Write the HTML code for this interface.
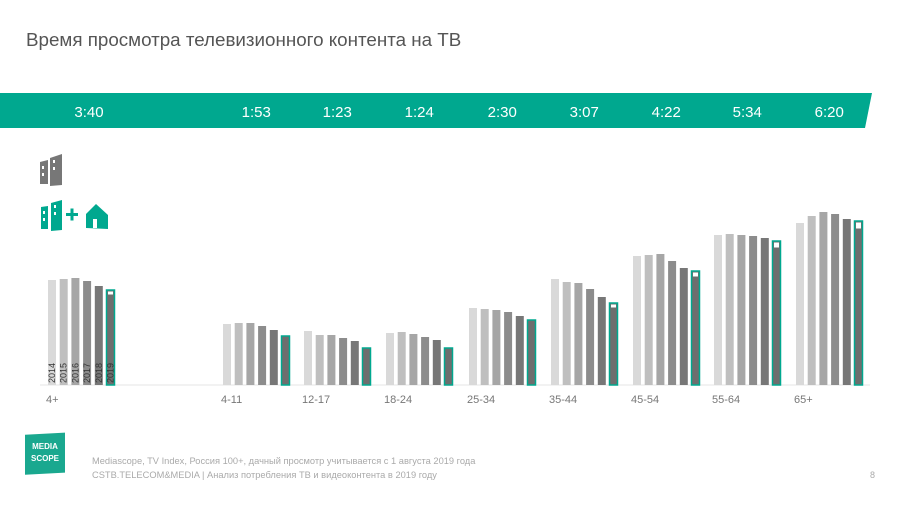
<!DOCTYPE html>
<html><head><meta charset="utf-8">
<style>
body{margin:0;background:#fff;font-family:"Liberation Sans",sans-serif;}
#wrap{position:relative;width:900px;height:505px;overflow:hidden;background:#fff;}
</style></head><body>
<div id="wrap">
<svg id="chart" width="900" height="505">
  <text x="26" y="46" font-size="18.8" fill="#555">Время просмотра телевизионного контента на ТВ</text>
  <polygon points="0,93 872,93 865,128 0,128" fill="#00a88f"/>
  <g id="icons">
    <g fill="#777">
      <polygon points="40,162 48,160 48,184 40,184"/><polygon points="50,158 62,154 62,185 50,186"/>
      <rect x="42" y="166" width="2" height="3" fill="#fff"/><rect x="42" y="173" width="2" height="3" fill="#fff"/>
      <rect x="53" y="160" width="2" height="3" fill="#fff"/><rect x="53" y="167" width="2" height="3" fill="#fff"/>
    </g>
    <g fill="#00a88f">
      <polygon points="41,207 48,206 48,229 41,229"/><polygon points="51,203 62,200 62,230 51,231"/>
      <rect x="43" y="211" width="2" height="3" fill="#fff"/><rect x="43" y="218" width="2" height="3" fill="#fff"/>
      <rect x="54" y="205" width="2" height="3" fill="#fff"/><rect x="54" y="212" width="2" height="3" fill="#fff"/>
      <rect x="66" y="213" width="12" height="3"/><rect x="70.5" y="208.5" width="3" height="12"/>
      <polygon points="86,214 96,204 108,215 108,229 86,228"/><rect x="93" y="219" width="4" height="9" fill="#fff"/>
    </g>
  </g>
  <line x1="40" y1="385" x2="870" y2="385" stroke="#e6e6e6"/>
  <g id="bars"></g>
  <g id="labels"></g>
  <rect x="25" y="434" width="40" height="40" fill="#1aa88f" transform="skewY(-3) translate(0,2)"/>
  <text x="45" y="449" font-size="8" fill="#fff" text-anchor="middle" font-weight="bold">MEDIA</text>
  <text x="45" y="461" font-size="8" fill="#fff" text-anchor="middle" font-weight="bold">SCOPE</text>
  <text x="92" y="464" font-size="9.3" fill="#aaa">Mediascope, TV Index, Россия 100+, дачный просмотр учитывается с 1 августа 2019 года</text>
  <text x="92" y="478" font-size="9.3" fill="#aaa">CSTB.TELECOM&amp;MEDIA | Анализ потребления ТВ и видеоконтента в 2019 году</text>
  <text x="870" y="478" font-size="9" fill="#aaa">8</text>
</svg>
</div>
<script>
const categories=["4+","4-11","12-17","18-24","25-34","35-44","45-54","55-64","65+"];
const totals=["3:40","1:53","1:23","1:24","2:30","3:07","4:22","5:34","6:20"];
const years=["2014","2015","2016","2017","2018","2019"];
const v2014=[105,61,54,52,77,106,129,150,162];
const v2015=[106,62,50,53,76,103,130,151,169];
const v2016=[107,62,50,51,75,102,131,150,173];
const v2017=[104,59,47,48,73,96,124,149,171];
const v2018=[99,55,44,45,69,88,117,147,166];
const v2019=[95,49,37,37,65,82,114,144,164];
const dacha2019=[3,0,0,0,0,3,4,5,6];
const NS="http://www.w3.org/2000/svg";
const base=385, scale=1;
const groupX=[48,223,304,386,469,551,633,714,796];
const pitch=11.7, bw=8;
const fills=["#d9d9d9","#bfbfbf","#a6a6a6","#8c8c8c","#777","#6e6e6e"];
const series=[v2014,v2015,v2016,v2017,v2018,v2019];
const bars=document.getElementById('bars'), labels=document.getElementById('labels');
function y(v){return base-v*scale;}
categories.forEach((c,i)=>{
  series.forEach((s,j)=>{
    const r=document.createElementNS(NS,'rect');
    const x=groupX[i]+j*pitch;
    r.setAttribute('x',x);r.setAttribute('y',y(s[i]));r.setAttribute('width',bw);r.setAttribute('height',s[i]*scale);
    r.setAttribute('fill',fills[j]);
    if(j===5){r.setAttribute('stroke','#00a88f');r.setAttribute('stroke-width','1.5');}
    
    
    bars.appendChild(r);
    if(j===5&&dacha2019[i]>0){
      const w=document.createElementNS(NS,'rect');
      w.setAttribute('x',x+1.5);w.setAttribute('y',y(s[i])+1.5);w.setAttribute('width',bw-3);w.setAttribute('height',dacha2019[i]);
      w.setAttribute('fill','#fff');
      
      
      bars.appendChild(w);
    }
    if(i===0){
      const t=document.createElementNS(NS,'text');
      t.setAttribute('transform','translate('+(x+bw-1)+',383) rotate(-90)');
      t.setAttribute('font-size','9');t.setAttribute('fill','#333');
      t.textContent=years[j];
      
      
      labels.appendChild(t);
    }
  });
  const t=document.createElementNS(NS,'text');
  t.setAttribute('x',groupX[i]-2);t.setAttribute('y',403);t.setAttribute('font-size','11');t.setAttribute('fill','#777');
  t.textContent=c;
  
  
  labels.appendChild(t);
  const tt=document.createElementNS(NS,'text');
  const cx=i===0?89:groupX[i]+pitch*2.5+bw/2;
  tt.setAttribute('x',cx);tt.setAttribute('y',117);tt.setAttribute('font-size','15');tt.setAttribute('fill','#fff');tt.setAttribute('text-anchor','middle');
  tt.textContent=totals[i];
  
  
  labels.appendChild(tt);
});
</script>
</body></html>
